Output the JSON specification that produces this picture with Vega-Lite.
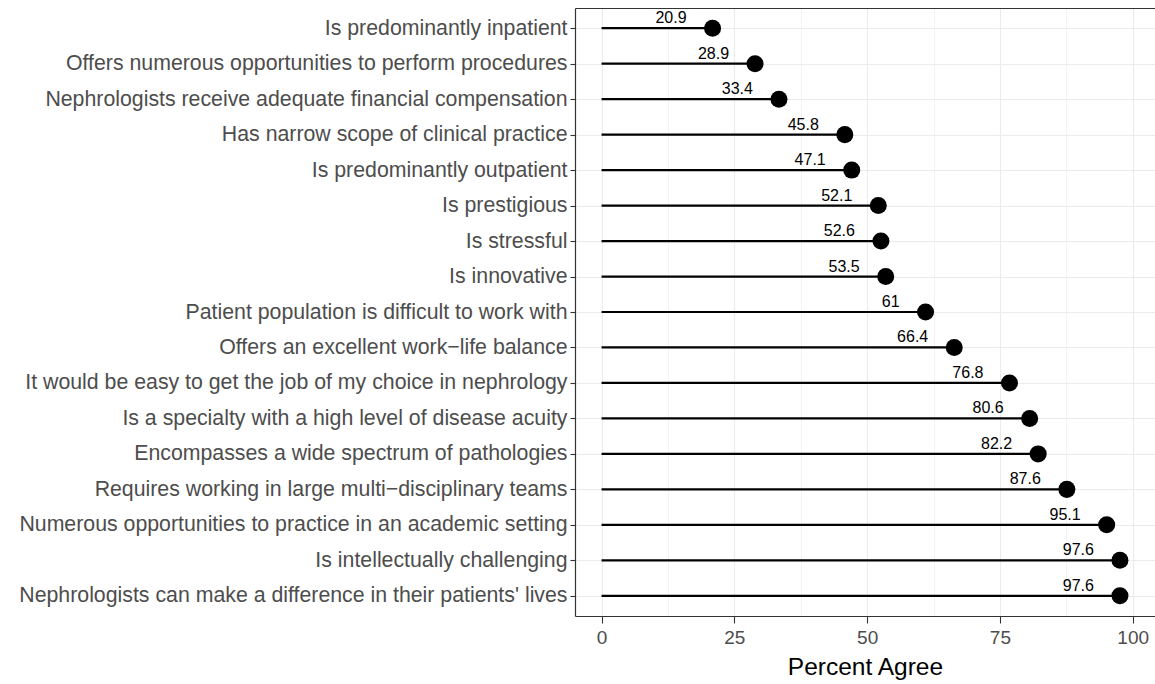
{
  "$schema": "https://vega.github.io/schema/vega-lite/v6.json",
  "autosize": {"type": "none"},
  "padding": {"left": 575, "top": 8, "right": 0, "bottom": 68},
  "width": 580,
  "height": 608,
  "background": "white",
  "config": {
    "view": {"stroke": null},
    "font": "Liberation Sans"
  },
  "data": {
    "values": [
      {"item": "Is predominantly inpatient", "value": 20.9, "label": "20.9"},
      {"item": "Offers numerous opportunities to perform procedures", "value": 28.9, "label": "28.9"},
      {"item": "Nephrologists receive adequate financial compensation", "value": 33.4, "label": "33.4"},
      {"item": "Has narrow scope of clinical practice", "value": 45.8, "label": "45.8"},
      {"item": "Is predominantly outpatient", "value": 47.1, "label": "47.1"},
      {"item": "Is prestigious", "value": 52.1, "label": "52.1"},
      {"item": "Is stressful", "value": 52.6, "label": "52.6"},
      {"item": "Is innovative", "value": 53.5, "label": "53.5"},
      {"item": "Patient population is difficult to work with", "value": 61, "label": "61"},
      {"item": "Offers an excellent work−life balance", "value": 66.4, "label": "66.4"},
      {"item": "It would be easy to get the job of my choice in nephrology", "value": 76.8, "label": "76.8"},
      {"item": "Is a specialty with a high level of disease acuity", "value": 80.6, "label": "80.6"},
      {"item": "Encompasses a wide spectrum of pathologies", "value": 82.2, "label": "82.2"},
      {"item": "Requires working in large multi−disciplinary teams", "value": 87.6, "label": "87.6"},
      {"item": "Numerous opportunities to practice in an academic setting", "value": 95.1, "label": "95.1"},
      {"item": "Is intellectually challenging", "value": 97.6, "label": "97.6"},
      {"item": "Nephrologists can make a difference in their patients' lives", "value": 97.6, "label": "97.6"}
    ]
  },
  "encoding": {
    "y": {
      "field": "item",
      "type": "nominal",
      "sort": null,
      "scale": {"type": "point", "padding": 0.57},
      "axis": {
        "title": null,
        "domain": true,
        "domainColor": "#333333",
        "domainWidth": 1.2,
        "grid": true,
        "gridColor": "#EBEBEB",
        "gridWidth": 1.1,
        "ticks": true,
        "tickColor": "#333333",
        "tickSize": 5,
        "tickWidth": 1.1,
        "labelFont": "Liberation Sans",
        "labelFontSize": 21.3,
        "labelColor": "#4D4D4D",
        "labelPadding": 3,
        "labelLimit": 0
      }
    }
  },
  "layer": [
    {
      "mark": {"type": "rule", "color": "black", "strokeWidth": 2.2},
      "encoding": {
        "x": {
          "field": "value",
          "type": "quantitative",
          "scale": {"domain": [-5, 104.2], "nice": false, "zero": false},
          "axis": {
            "title": "Percent Agree",
            "titleFont": "Liberation Sans",
            "titleFontSize": 24.5,
            "titleFontWeight": "normal",
            "titleColor": "black",
            "titlePadding": 8,
            "values": [0, 12.5, 25, 37.5, 50, 62.5, 75, 87.5, 100],
            "labelExpr": "datum.value % 25 === 0 ? '' + datum.value : ''",
            "labelFont": "Liberation Sans",
            "labelFontSize": 19,
            "labelColor": "#4D4D4D",
            "labelPadding": 5,
            "domain": true,
            "domainColor": "#333333",
            "domainWidth": 1.2,
            "grid": true,
            "gridColor": "#EBEBEB",
            "gridWidth": {"condition": {"test": "datum.value % 25 !== 0", "value": 0.6}, "value": 1.1},
            "tickColor": "#333333",
            "tickSize": 7,
            "tickWidth": 1.1,
            "tickOpacity": {"condition": {"test": "datum.value % 25 !== 0", "value": 0}, "value": 1}
          }
        },
        "x2": {"datum": 0}
      }
    },
    {
      "mark": {"type": "circle", "color": "black", "opacity": 1, "size": 290},
      "encoding": {
        "x": {"field": "value", "type": "quantitative", "axis": null}
      }
    },
    {
      "mark": {"type": "text", "align": "right", "baseline": "alphabetic", "dx": -26, "dy": -5, "fontSize": 16, "color": "black", "font": "Liberation Sans"},
      "encoding": {
        "x": {"field": "value", "type": "quantitative", "axis": null},
        "text": {"field": "label"}
      }
    },
    {
      "mark": {"type": "rule", "opacity": 0},
      "encoding": {
        "x": {
          "field": "value",
          "type": "quantitative",
          "axis": {
            "orient": "top",
            "title": null,
            "labels": false,
            "ticks": false,
            "grid": false,
            "domain": true,
            "domainColor": "#333333",
            "domainWidth": 1.2
          }
        }
      }
    }
  ],
  "resolve": {"axis": {"x": "independent"}}
}
